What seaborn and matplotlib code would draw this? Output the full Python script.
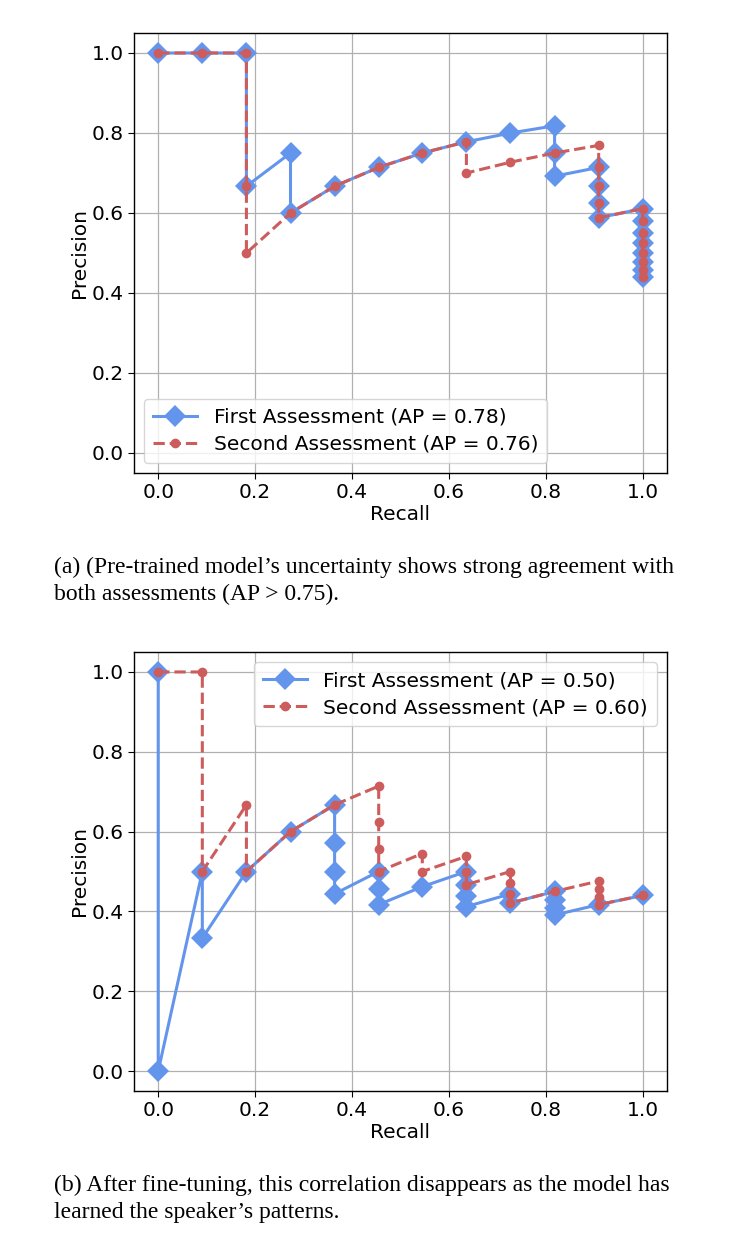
import matplotlib
matplotlib.use("Agg")
import matplotlib.pyplot as plt
import seaborn as sns
import pandas as pd

# ---------------- data ----------------
# (a) pre-trained model
a_first_recall = [0.0, 0.091, 0.182, 0.182, 0.273, 0.273, 0.364, 0.455, 0.545, 0.636, 0.727,
                  0.818, 0.818, 0.818, 0.909, 0.909, 0.909, 0.909,
                  1.0, 1.0, 1.0, 1.0, 1.0, 1.0, 1.0, 1.0]
a_first_prec = [1.0, 1.0, 1.0, 0.667, 0.75, 0.6, 0.667, 0.714, 0.75, 0.778, 0.8,
                0.818, 0.75, 0.692, 0.714, 0.667, 0.625, 0.588,
                0.611, 0.579, 0.55, 0.524, 0.5, 0.478, 0.458, 0.44]
a_second_recall = [0.0, 0.091, 0.182, 0.182, 0.182, 0.273, 0.364, 0.455, 0.545, 0.636, 0.636,
                   0.727, 0.818, 0.909, 0.909, 0.909, 0.909, 0.909,
                   1.0, 1.0, 1.0, 1.0, 1.0, 1.0, 1.0, 1.0]
a_second_prec = [1.0, 1.0, 1.0, 0.667, 0.5, 0.6, 0.667, 0.714, 0.75, 0.778, 0.7,
                 0.727, 0.75, 0.769, 0.714, 0.667, 0.625, 0.588,
                 0.611, 0.579, 0.55, 0.524, 0.5, 0.478, 0.458, 0.44]

# (b) fine-tuned model
b_first_recall = [0.0, 0.0, 0.091, 0.091, 0.182, 0.273, 0.364, 0.364, 0.364, 0.364,
                  0.455, 0.455, 0.455, 0.545, 0.636, 0.636, 0.636, 0.636,
                  0.727, 0.727, 0.818, 0.818, 0.818, 0.818, 0.909, 1.0]
b_first_prec = [1.0, 0.0, 0.5, 0.333, 0.5, 0.6, 0.667, 0.571, 0.5, 0.444,
                0.5, 0.455, 0.417, 0.462, 0.5, 0.467, 0.438, 0.412,
                0.444, 0.421, 0.45, 0.429, 0.409, 0.391, 0.417, 0.44]
b_second_recall = [0.0, 0.091, 0.091, 0.182, 0.182, 0.273, 0.364, 0.455, 0.455, 0.455, 0.455,
                   0.545, 0.545, 0.636, 0.636, 0.636, 0.727, 0.727, 0.727, 0.727,
                   0.818, 0.909, 0.909, 0.909, 0.909, 1.0]
b_second_prec = [1.0, 1.0, 0.5, 0.667, 0.5, 0.6, 0.667, 0.714, 0.625, 0.556, 0.5,
                 0.545, 0.5, 0.538, 0.5, 0.467, 0.5, 0.471, 0.444, 0.421,
                 0.45, 0.476, 0.455, 0.435, 0.417, 0.44]

ap_a = [0.78, 0.76]
ap_b = [0.50, 0.60]

caption_a = "(a) (Pre-trained model\u2019s uncertainty shows strong agreement with\nboth assessments (AP > 0.75)."
caption_b = "(b) After fine-tuning, this correlation disappears as the model has\nlearned the speaker\u2019s patterns."

BLUE = "#6495ED"
RED = "#CD5C5C"

plt.rcParams["font.family"] = ["DejaVu Sans"]
fig = plt.figure(figsize=(7.31, 12.58), dpi=100)
W, H = 731, 1258
FS = 14.5

def make_ax(left, top, right, bottom):
    return fig.add_axes([left / W, 1 - bottom / H, (right - left) / W, (bottom - top) / H])

def draw(ax, r1, p1, r2, p2, ap, loc):
    d1 = pd.DataFrame({"Recall": r1, "Precision": p1})
    d2 = pd.DataFrame({"Recall": r2, "Precision": p2})
    sns.lineplot(data=d1, x="Recall", y="Precision", sort=False, estimator=None, ax=ax,
                 color=BLUE, marker="D", markersize=11, markeredgewidth=0, linewidth=2.2,
                 label=f"First Assessment (AP = {ap[0]:.2f})", zorder=2)
    sns.lineplot(data=d2, x="Recall", y="Precision", sort=False, estimator=None, ax=ax,
                 color=RED, marker="o", markersize=7, markeredgewidth=0, linewidth=2.2,
                 linestyle="--", label=f"Second Assessment (AP = {ap[1]:.2f})", zorder=3)
    ax.set_xlim(-0.05, 1.05)
    ax.set_ylim(-0.05, 1.05)
    ax.set_xticks([0, 0.2, 0.4, 0.6, 0.8, 1.0])
    ax.set_yticks([0, 0.2, 0.4, 0.6, 0.8, 1.0])
    ax.grid(True, color="#b0b0b0", linewidth=0.9)
    ax.set_axisbelow(True)
    ax.tick_params(labelsize=FS, length=4)
    ax.set_xlabel("Recall", fontsize=FS, labelpad=2)
    ax.set_ylabel("Precision", fontsize=FS, labelpad=2)
    for s in ax.spines.values():
        s.set_color("black")
        s.set_linewidth(1.0)
    ax.legend(loc=loc, fontsize=FS, handlelength=2.2, framealpha=0.8, borderpad=0.45,
              labelspacing=0.4)

ax1 = make_ax(134, 33, 667, 473)
draw(ax1, a_first_recall, a_first_prec, a_second_recall, a_second_prec, ap_a, "lower left")
ax2 = make_ax(134, 652, 667, 1091)
draw(ax2, b_first_recall, b_first_prec, b_second_recall, b_second_prec, ap_b, "upper right")

fig.text(54 / W, 1 - 557 / H, caption_a, family="Liberation Serif", fontsize=17,
         va="top", ha="left", linespacing=1.38)
fig.text(54 / W, 1 - 1175 / H, caption_b, family="Liberation Serif", fontsize=17,
         va="top", ha="left", linespacing=1.38)

fig.savefig("out.png", dpi=100, facecolor="white")
